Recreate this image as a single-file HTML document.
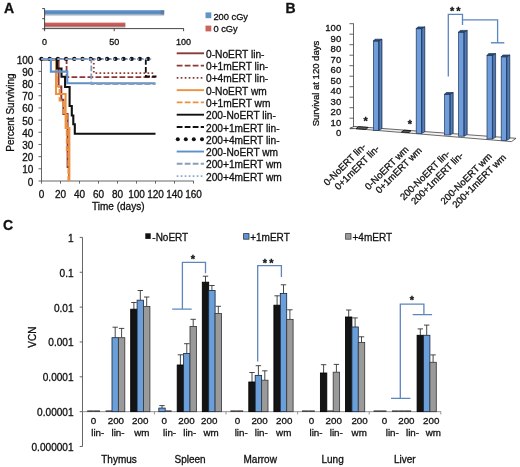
<!DOCTYPE html>
<html><head><meta charset="utf-8"><title>Figure</title>
<style>
html,body{margin:0;padding:0;background:#fff;overflow:hidden;}
svg{display:block;font-family:"Liberation Sans", sans-serif;will-change:transform;}
text{stroke:#111;stroke-width:0.3px;}
</style></head>
<body>
<svg width="520" height="467" viewBox="0 0 520 467">
<rect width="520" height="467" fill="#fff"/>
<text x="3.9" y="12.9" font-size="14" text-anchor="start" font-weight="bold" fill="#111" >A</text>
<text x="285.6" y="12.9" font-size="14" text-anchor="start" font-weight="bold" fill="#111" >B</text>
<text x="3" y="229.9" font-size="14" text-anchor="start" font-weight="bold" fill="#111" >C</text>
<defs><linearGradient id="gb" x1="0" y1="0" x2="0" y2="1"><stop offset="0" stop-color="#5f93cc"/><stop offset="0.5" stop-color="#5287c2"/><stop offset="0.75" stop-color="#a9b6c4"/><stop offset="1" stop-color="#f2eee9"/></linearGradient><linearGradient id="gr" x1="0" y1="0" x2="0" y2="1"><stop offset="0" stop-color="#cc6763"/><stop offset="0.55" stop-color="#bd5551"/><stop offset="0.8" stop-color="#b09593"/><stop offset="1" stop-color="#ebe3e1"/></linearGradient><linearGradient id="gbf" x1="0" y1="0" x2="1" y2="0"><stop offset="0" stop-color="#5f8fd0"/><stop offset="1" stop-color="#7fa8e0"/></linearGradient><linearGradient id="gbs" x1="0" y1="0" x2="1" y2="0"><stop offset="0" stop-color="#2f5791"/><stop offset="0.55" stop-color="#5b83bd"/><stop offset="1" stop-color="#34598f"/></linearGradient><linearGradient id="gfl" x1="0" y1="0" x2="0" y2="1"><stop offset="0" stop-color="#e8e8e8"/><stop offset="1" stop-color="#ffffff"/></linearGradient></defs>
<rect x="44.6" y="10.2" width="119.6" height="6" fill="url(#gb)" stroke="none" stroke-width="0" />
<rect x="44.6" y="22.6" width="80.8" height="5.3" fill="url(#gr)" stroke="none" stroke-width="0" />
<rect x="160.6" y="10.2" width="3.6" height="4.4" fill="#5d7190" stroke="none" stroke-width="0" opacity="0.55"/>
<line x1="44.6" y1="8.4" x2="44.6" y2="29.3" stroke="#333" stroke-width="0.9" />
<line x1="42.2" y1="8.6" x2="44.6" y2="8.6" stroke="#333" stroke-width="0.9" />
<line x1="42.2" y1="18.7" x2="44.6" y2="18.7" stroke="#333" stroke-width="0.9" />
<line x1="42.2" y1="28.8" x2="44.6" y2="28.8" stroke="#333" stroke-width="0.9" />
<line x1="44.6" y1="28.6" x2="183.8" y2="28.6" stroke="#333" stroke-width="0.9" />
<line x1="44.6" y1="28.6" x2="44.6" y2="31.2" stroke="#333" stroke-width="0.9" />
<line x1="114.2" y1="28.6" x2="114.2" y2="31.2" stroke="#333" stroke-width="0.9" />
<line x1="183.6" y1="28.6" x2="183.6" y2="31.2" stroke="#333" stroke-width="0.9" />
<text x="44.6" y="45.2" font-size="9" text-anchor="middle" font-weight="normal" fill="#111" >0</text>
<text x="114.2" y="45.2" font-size="9" text-anchor="middle" font-weight="normal" fill="#111" >50</text>
<text x="183.6" y="45.2" font-size="9" text-anchor="middle" font-weight="normal" fill="#111" >100</text>
<rect x="205.5" y="12.4" width="5.8" height="5.8" fill="#6493c8" stroke="none" stroke-width="0" />
<text x="213.4" y="19.9" font-size="9.3" text-anchor="start" font-weight="normal" fill="#111" >200 cGy</text>
<rect x="205.5" y="25.6" width="5.8" height="5.8" fill="#c96461" stroke="none" stroke-width="0" />
<text x="213.4" y="32.3" font-size="9.3" text-anchor="start" font-weight="normal" fill="#111" >0 cGy</text>
<line x1="41.5" y1="58.8" x2="41.5" y2="181" stroke="#555" stroke-width="0.9" />
<line x1="38.5" y1="181" x2="41.5" y2="181" stroke="#555" stroke-width="0.9" />
<text x="33.4" y="185.5" font-size="10" text-anchor="end" font-weight="normal" fill="#111" >0</text>
<line x1="38.5" y1="168.82" x2="41.5" y2="168.82" stroke="#555" stroke-width="0.9" />
<text x="33.4" y="173.32" font-size="10" text-anchor="end" font-weight="normal" fill="#111" >10</text>
<line x1="38.5" y1="156.64" x2="41.5" y2="156.64" stroke="#555" stroke-width="0.9" />
<text x="33.4" y="161.14" font-size="10" text-anchor="end" font-weight="normal" fill="#111" >20</text>
<line x1="38.5" y1="144.46" x2="41.5" y2="144.46" stroke="#555" stroke-width="0.9" />
<text x="33.4" y="148.96" font-size="10" text-anchor="end" font-weight="normal" fill="#111" >30</text>
<line x1="38.5" y1="132.28" x2="41.5" y2="132.28" stroke="#555" stroke-width="0.9" />
<text x="33.4" y="136.78" font-size="10" text-anchor="end" font-weight="normal" fill="#111" >40</text>
<line x1="38.5" y1="120.1" x2="41.5" y2="120.1" stroke="#555" stroke-width="0.9" />
<text x="33.4" y="124.6" font-size="10" text-anchor="end" font-weight="normal" fill="#111" >50</text>
<line x1="38.5" y1="107.92" x2="41.5" y2="107.92" stroke="#555" stroke-width="0.9" />
<text x="33.4" y="112.42" font-size="10" text-anchor="end" font-weight="normal" fill="#111" >60</text>
<line x1="38.5" y1="95.74" x2="41.5" y2="95.74" stroke="#555" stroke-width="0.9" />
<text x="33.4" y="100.24" font-size="10" text-anchor="end" font-weight="normal" fill="#111" >70</text>
<line x1="38.5" y1="83.56" x2="41.5" y2="83.56" stroke="#555" stroke-width="0.9" />
<text x="33.4" y="88.06" font-size="10" text-anchor="end" font-weight="normal" fill="#111" >80</text>
<line x1="38.5" y1="71.38" x2="41.5" y2="71.38" stroke="#555" stroke-width="0.9" />
<text x="33.4" y="75.88" font-size="10" text-anchor="end" font-weight="normal" fill="#111" >90</text>
<line x1="38.5" y1="59.2" x2="41.5" y2="59.2" stroke="#555" stroke-width="0.9" />
<text x="33.4" y="63.7" font-size="10" text-anchor="end" font-weight="normal" fill="#111" >100</text>
<line x1="41.5" y1="181" x2="193.8" y2="181" stroke="#555" stroke-width="0.9" />
<line x1="41.5" y1="181" x2="41.5" y2="183.6" stroke="#555" stroke-width="0.9" />
<text x="41.5" y="197.6" font-size="10" text-anchor="middle" font-weight="normal" fill="#111" >0</text>
<line x1="60.5" y1="181" x2="60.5" y2="183.6" stroke="#555" stroke-width="0.9" />
<text x="60.5" y="197.6" font-size="10" text-anchor="middle" font-weight="normal" fill="#111" >20</text>
<line x1="79.5" y1="181" x2="79.5" y2="183.6" stroke="#555" stroke-width="0.9" />
<text x="79.5" y="197.6" font-size="10" text-anchor="middle" font-weight="normal" fill="#111" >40</text>
<line x1="98.5" y1="181" x2="98.5" y2="183.6" stroke="#555" stroke-width="0.9" />
<text x="98.5" y="197.6" font-size="10" text-anchor="middle" font-weight="normal" fill="#111" >60</text>
<line x1="117.5" y1="181" x2="117.5" y2="183.6" stroke="#555" stroke-width="0.9" />
<text x="117.5" y="197.6" font-size="10" text-anchor="middle" font-weight="normal" fill="#111" >80</text>
<line x1="136.5" y1="181" x2="136.5" y2="183.6" stroke="#555" stroke-width="0.9" />
<text x="136.5" y="197.6" font-size="10" text-anchor="middle" font-weight="normal" fill="#111" >100</text>
<line x1="155.5" y1="181" x2="155.5" y2="183.6" stroke="#555" stroke-width="0.9" />
<text x="155.5" y="197.6" font-size="10" text-anchor="middle" font-weight="normal" fill="#111" >120</text>
<line x1="174.5" y1="181" x2="174.5" y2="183.6" stroke="#555" stroke-width="0.9" />
<text x="174.5" y="197.6" font-size="10" text-anchor="middle" font-weight="normal" fill="#111" >140</text>
<line x1="193.5" y1="181" x2="193.5" y2="183.6" stroke="#555" stroke-width="0.9" />
<text x="193.5" y="197.6" font-size="10" text-anchor="middle" font-weight="normal" fill="#111" >160</text>
<text x="118.3" y="210.3" font-size="10" text-anchor="middle" font-weight="normal" fill="#111" >Time (days)</text>
<text transform="translate(13.6 112.6) rotate(-90)" font-size="10" text-anchor="middle" fill="#111">Percent Surviving</text>
<path d="M41.5 59.2 H58.6 V86.4 H61.3 V99.8 H63.4 V114 H67.6 V167 H69.0 V181.0" fill="none" stroke="#8a3a37" stroke-width="2.0" stroke-linejoin="miter" />
<path d="M41.5 59.2 H66.6 V77.2 H155.5" fill="none" stroke="#8a3a37" stroke-width="1.8" stroke-linejoin="miter" stroke-dasharray="5.8 2.2"/>
<path d="M41.5 59.2 H93.8 V73.2 H155.5" fill="none" stroke="#8a3a37" stroke-width="1.8" stroke-linejoin="miter" stroke-dasharray="1.7 2.3"/>
<path d="M41.5 59.2 H56.0 V94 H65.6 V128 H69.4 V181.0" fill="none" stroke="#ef9240" stroke-width="2.0" stroke-linejoin="miter" />
<path d="M41.5 59.2 H56.8 V86 H59.6 V100.5 H63.6 V113 H66.8 V150 H68.4 V181.0" fill="none" stroke="#ef9240" stroke-width="2.0" stroke-linejoin="miter" stroke-dasharray="5.8 2.2"/>
<path d="M41.5 59.2 H57 V68.5 H61.5 V76.8 H65.1 V87 H69.6 V106 H71.8 V115.5 H73.3 V124.3 H74.8 V133.8 H155.5" fill="none" stroke="#111" stroke-width="2.1" stroke-linejoin="miter" />
<path d="M41.5 59.2 H145.8 V76.5 H156.5" fill="none" stroke="#111" stroke-width="1.8" stroke-linejoin="miter" stroke-dasharray="5.8 2.2"/>
<circle cx="41.5" cy="58.9" r="2.15" fill="#111"/>
<circle cx="49.7" cy="58.9" r="2.15" fill="#111"/>
<circle cx="57.9" cy="58.9" r="2.15" fill="#111"/>
<circle cx="66.1" cy="58.9" r="2.15" fill="#111"/>
<circle cx="74.3" cy="58.9" r="2.15" fill="#111"/>
<circle cx="82.5" cy="58.9" r="2.15" fill="#111"/>
<circle cx="90.7" cy="58.9" r="2.15" fill="#111"/>
<circle cx="98.9" cy="58.9" r="2.15" fill="#111"/>
<circle cx="107.1" cy="58.9" r="2.15" fill="#111"/>
<circle cx="115.3" cy="58.9" r="2.15" fill="#111"/>
<circle cx="123.5" cy="58.9" r="2.15" fill="#111"/>
<circle cx="131.7" cy="58.9" r="2.15" fill="#111"/>
<circle cx="139.9" cy="58.9" r="2.15" fill="#111"/>
<circle cx="148.1" cy="58.9" r="2.15" fill="#111"/>
<path d="M41.5 59.2 H50.9 V71.6 H67.3 V83.3 H155.5" fill="none" stroke="#5f90ca" stroke-width="2.1" stroke-linejoin="miter" />
<path d="M41.5 59.2 H91.3 V84.2 H155.5" fill="none" stroke="#8a9fbd" stroke-width="1.8" stroke-linejoin="miter" stroke-dasharray="5.8 2.2"/>
<path d="M41.5 59.2 H152" fill="none" stroke="#84a9d6" stroke-width="1.8" stroke-linejoin="miter" stroke-dasharray="1.7 2.3"/>
<line x1="176.7" y1="53.3" x2="204" y2="53.3" stroke="#8a3a37" stroke-width="1.9" />
<text x="206" y="57.9" font-size="10.2" text-anchor="start" font-weight="normal" fill="#111" >0-NoERT lin-</text>
<line x1="176.7" y1="65.58" x2="204" y2="65.58" stroke="#8a3a37" stroke-width="1.9" stroke-dasharray="5.8 2.2"/>
<text x="206" y="70.18" font-size="10.2" text-anchor="start" font-weight="normal" fill="#111" >0+1mERT lin-</text>
<line x1="176.7" y1="77.86" x2="204" y2="77.86" stroke="#8a3a37" stroke-width="1.9" stroke-dasharray="1.7 2.3"/>
<text x="206" y="82.46" font-size="10.2" text-anchor="start" font-weight="normal" fill="#111" >0+4mERT lin-</text>
<line x1="176.7" y1="90.14" x2="204" y2="90.14" stroke="#ef9240" stroke-width="1.9" />
<text x="206" y="94.74" font-size="10.2" text-anchor="start" font-weight="normal" fill="#111" >0-NoERT wm</text>
<line x1="176.7" y1="102.42" x2="204" y2="102.42" stroke="#ef9240" stroke-width="1.9" stroke-dasharray="5.8 2.2"/>
<text x="206" y="107.02" font-size="10.2" text-anchor="start" font-weight="normal" fill="#111" >0+1mERT wm</text>
<line x1="176.7" y1="114.7" x2="204" y2="114.7" stroke="#111" stroke-width="1.9" />
<text x="206" y="119.3" font-size="10.2" text-anchor="start" font-weight="normal" fill="#111" >200-NoERT lin-</text>
<line x1="176.7" y1="126.98" x2="204" y2="126.98" stroke="#111" stroke-width="1.9" stroke-dasharray="5.8 2.2"/>
<text x="206" y="131.58" font-size="10.2" text-anchor="start" font-weight="normal" fill="#111" >200+1mERT lin-</text>
<circle cx="177.8" cy="139.26" r="2.0" fill="#111"/>
<circle cx="185.8" cy="139.26" r="2.0" fill="#111"/>
<circle cx="193.8" cy="139.26" r="2.0" fill="#111"/>
<circle cx="202.0" cy="139.26" r="2.0" fill="#111"/>
<text x="206" y="143.86" font-size="10.2" text-anchor="start" font-weight="normal" fill="#111" >200+4mERT lin-</text>
<line x1="176.7" y1="151.54" x2="204" y2="151.54" stroke="#5f90ca" stroke-width="1.9" />
<text x="206" y="156.14" font-size="10.2" text-anchor="start" font-weight="normal" fill="#111" >200-NoERT wm</text>
<line x1="176.7" y1="163.82" x2="204" y2="163.82" stroke="#8a9fbd" stroke-width="1.9" stroke-dasharray="5.8 2.2"/>
<text x="206" y="168.42" font-size="10.2" text-anchor="start" font-weight="normal" fill="#111" >200+1mERT wm</text>
<line x1="176.7" y1="176.1" x2="204" y2="176.1" stroke="#84a9d6" stroke-width="1.9" stroke-dasharray="1.7 2.3"/>
<text x="206" y="180.7" font-size="10.2" text-anchor="start" font-weight="normal" fill="#111" >200+4mERT wm</text>
<line x1="353.5" y1="23.4" x2="353.5" y2="128.7" stroke="#555" stroke-width="0.9" />
<line x1="349.5" y1="128.7" x2="353.5" y2="128.7" stroke="#555" stroke-width="0.9" />
<text x="341.2" y="136.1" font-size="9.5" text-anchor="end" font-weight="normal" fill="#111" >0</text>
<line x1="349.5" y1="118.2" x2="353.5" y2="118.2" stroke="#555" stroke-width="0.9" />
<text x="341.2" y="125.6" font-size="9.5" text-anchor="end" font-weight="normal" fill="#111" >10</text>
<line x1="349.5" y1="107.7" x2="353.5" y2="107.7" stroke="#555" stroke-width="0.9" />
<text x="341.2" y="115.1" font-size="9.5" text-anchor="end" font-weight="normal" fill="#111" >20</text>
<line x1="349.5" y1="97.2" x2="353.5" y2="97.2" stroke="#555" stroke-width="0.9" />
<text x="341.2" y="104.6" font-size="9.5" text-anchor="end" font-weight="normal" fill="#111" >30</text>
<line x1="349.5" y1="86.7" x2="353.5" y2="86.7" stroke="#555" stroke-width="0.9" />
<text x="341.2" y="94.1" font-size="9.5" text-anchor="end" font-weight="normal" fill="#111" >40</text>
<line x1="349.5" y1="76.2" x2="353.5" y2="76.2" stroke="#555" stroke-width="0.9" />
<text x="341.2" y="83.6" font-size="9.5" text-anchor="end" font-weight="normal" fill="#111" >50</text>
<line x1="349.5" y1="65.7" x2="353.5" y2="65.7" stroke="#555" stroke-width="0.9" />
<text x="341.2" y="73.1" font-size="9.5" text-anchor="end" font-weight="normal" fill="#111" >60</text>
<line x1="349.5" y1="55.2" x2="353.5" y2="55.2" stroke="#555" stroke-width="0.9" />
<text x="341.2" y="62.6" font-size="9.5" text-anchor="end" font-weight="normal" fill="#111" >70</text>
<line x1="349.5" y1="44.7" x2="353.5" y2="44.7" stroke="#555" stroke-width="0.9" />
<text x="341.2" y="52.1" font-size="9.5" text-anchor="end" font-weight="normal" fill="#111" >80</text>
<line x1="349.5" y1="34.2" x2="353.5" y2="34.2" stroke="#555" stroke-width="0.9" />
<text x="341.2" y="41.6" font-size="9.5" text-anchor="end" font-weight="normal" fill="#111" >90</text>
<line x1="349.5" y1="23.7" x2="353.5" y2="23.7" stroke="#555" stroke-width="0.9" />
<text x="341.2" y="31.1" font-size="9.5" text-anchor="end" font-weight="normal" fill="#111" >100</text>
<text transform="translate(318.6 83.6) rotate(-90)" font-size="9.5" text-anchor="middle" fill="#111">Survival at 120 days</text>
<polygon points="354,126.4 516,138.3 511.5,141.6 350,128.2" fill="url(#gfl)" stroke="#2a2a2a" stroke-width="0.7"/>
<rect x="373.4" y="41" width="5.4" height="89.3" fill="#6f9ddb" stroke="#1f3658" stroke-width="0.7"/>
<polygon points="378.8,41 382,39.2 382,128.5 378.8,130.3" fill="url(#gbs)" stroke="#1f3658" stroke-width="0.7"/>
<polygon points="373.4,41 375,39.2 382,39.2 378.8,41" fill="#2c4a78" stroke="#1f3658" stroke-width="0.7"/>
<rect x="416.2" y="28.7" width="5.4" height="104.9" fill="#6f9ddb" stroke="#1f3658" stroke-width="0.7"/>
<polygon points="421.6,28.7 424.8,26.9 424.8,131.8 421.6,133.6" fill="url(#gbs)" stroke="#1f3658" stroke-width="0.7"/>
<polygon points="416.2,28.7 417.8,26.9 424.8,26.9 421.6,28.7" fill="#2c4a78" stroke="#1f3658" stroke-width="0.7"/>
<rect x="444.6" y="94.3" width="5.4" height="40.7" fill="#6f9ddb" stroke="#1f3658" stroke-width="0.7"/>
<polygon points="450,94.3 453.2,92.5 453.2,133.2 450,135" fill="url(#gbs)" stroke="#1f3658" stroke-width="0.7"/>
<polygon points="444.6,94.3 446.2,92.5 453.2,92.5 450,94.3" fill="#2c4a78" stroke="#1f3658" stroke-width="0.7"/>
<rect x="458.6" y="32.2" width="5.4" height="104" fill="#6f9ddb" stroke="#1f3658" stroke-width="0.7"/>
<polygon points="464,32.2 467.2,30.4 467.2,134.4 464,136.2" fill="url(#gbs)" stroke="#1f3658" stroke-width="0.7"/>
<polygon points="458.6,32.2 460.2,30.4 467.2,30.4 464,32.2" fill="#2c4a78" stroke="#1f3658" stroke-width="0.7"/>
<rect x="487" y="55.4" width="5.4" height="83.6" fill="#6f9ddb" stroke="#1f3658" stroke-width="0.7"/>
<polygon points="492.4,55.4 495.6,53.6 495.6,137.2 492.4,139" fill="url(#gbs)" stroke="#1f3658" stroke-width="0.7"/>
<polygon points="487,55.4 488.6,53.6 495.6,53.6 492.4,55.4" fill="#2c4a78" stroke="#1f3658" stroke-width="0.7"/>
<rect x="501.2" y="56.8" width="5.4" height="83.6" fill="#6f9ddb" stroke="#1f3658" stroke-width="0.7"/>
<polygon points="506.6,56.8 509.8,55 509.8,138.6 506.6,140.4" fill="url(#gbs)" stroke="#1f3658" stroke-width="0.7"/>
<polygon points="501.2,56.8 502.8,55 509.8,55 506.6,56.8" fill="#2c4a78" stroke="#1f3658" stroke-width="0.7"/>
<polygon points="356,128.7 358.5,126.7 368,127.4 366,129.4" fill="#666" stroke="#111" stroke-width="0.9"/>
<polygon points="401.5,132 404,130.2 411,130.7 409,132.5" fill="#666" stroke="#111" stroke-width="0.9"/>
<text x="365.6" y="124.6" font-size="11" text-anchor="middle" font-weight="bold" fill="#111" >*</text>
<text x="410" y="128.1" font-size="11" text-anchor="middle" font-weight="bold" fill="#111" >*</text>
<text x="452.1" y="14.8" font-size="11" text-anchor="middle" font-weight="bold" fill="#111" >*</text>
<text x="458.5" y="14.8" font-size="11" text-anchor="middle" font-weight="bold" fill="#111" >*</text>
<path d="M448.3 76.5 V14.3 H462.5 V24.9" fill="none" stroke="#5c86be" stroke-width="1.3" stroke-linejoin="miter" />
<path d="M462.5 19.9 H497.6 V42.8" fill="none" stroke="#5c86be" stroke-width="1.3" stroke-linejoin="miter" />
<line x1="490.9" y1="42.8" x2="504.3" y2="42.8" stroke="#5c86be" stroke-width="1.4" />
<text transform="translate(366.5 147.2) rotate(-45)" font-size="9.6" text-anchor="end" fill="#111">0-NoERT lin-</text>
<text transform="translate(380 149.2) rotate(-45)" font-size="9.6" text-anchor="end" fill="#111">0+1mERT lin-</text>
<text transform="translate(409.2 150) rotate(-45)" font-size="9.6" text-anchor="end" fill="#111">0-NoERT wm</text>
<text transform="translate(422.5 151) rotate(-45)" font-size="9.6" text-anchor="end" fill="#111">0+1mERT wm</text>
<text transform="translate(450.5 154.2) rotate(-45)" font-size="9.6" text-anchor="end" fill="#111">200-NoERT lin-</text>
<text transform="translate(464 156) rotate(-45)" font-size="9.6" text-anchor="end" fill="#111">200+1mERT lin-</text>
<text transform="translate(492.5 156.9) rotate(-45)" font-size="9.6" text-anchor="end" fill="#111">200-NoERT wm</text>
<text transform="translate(506.6 158) rotate(-45)" font-size="9.6" text-anchor="end" fill="#111">200+1mERT wm</text>
<line x1="82.5" y1="237.4" x2="82.5" y2="446.5" stroke="#555" stroke-width="0.9" />
<line x1="79.7" y1="237.4" x2="82.5" y2="237.4" stroke="#555" stroke-width="0.9" />
<text x="73.6" y="241.8" font-size="10.1" text-anchor="end" font-weight="normal" fill="#111" >1</text>
<line x1="79.7" y1="272.25" x2="82.5" y2="272.25" stroke="#555" stroke-width="0.9" />
<text x="73.6" y="276.65" font-size="10.1" text-anchor="end" font-weight="normal" fill="#111" >0.1</text>
<line x1="79.7" y1="307.1" x2="82.5" y2="307.1" stroke="#555" stroke-width="0.9" />
<text x="73.6" y="311.5" font-size="10.1" text-anchor="end" font-weight="normal" fill="#111" >0.01</text>
<line x1="79.7" y1="341.95" x2="82.5" y2="341.95" stroke="#555" stroke-width="0.9" />
<text x="73.6" y="346.35" font-size="10.1" text-anchor="end" font-weight="normal" fill="#111" >0.001</text>
<line x1="79.7" y1="376.8" x2="82.5" y2="376.8" stroke="#555" stroke-width="0.9" />
<text x="73.6" y="381.2" font-size="10.1" text-anchor="end" font-weight="normal" fill="#111" >0.0001</text>
<line x1="79.7" y1="411.65" x2="82.5" y2="411.65" stroke="#555" stroke-width="0.9" />
<text x="73.6" y="416.05" font-size="10.1" text-anchor="end" font-weight="normal" fill="#111" >0.00001</text>
<line x1="79.7" y1="446.5" x2="82.5" y2="446.5" stroke="#555" stroke-width="0.9" />
<text x="73.6" y="450.9" font-size="10.1" text-anchor="end" font-weight="normal" fill="#111" >0.000001</text>
<text transform="translate(35.6 337.2) rotate(-90)" font-size="10" text-anchor="middle" fill="#111">VCN</text>
<line x1="82.5" y1="411.65" x2="441" y2="411.65" stroke="#888" stroke-width="0.9" />
<line x1="154.4" y1="411.65" x2="154.4" y2="414.45" stroke="#888" stroke-width="0.9" />
<line x1="226" y1="411.65" x2="226" y2="414.45" stroke="#888" stroke-width="0.9" />
<line x1="297.6" y1="411.65" x2="297.6" y2="414.45" stroke="#888" stroke-width="0.9" />
<line x1="369.2" y1="411.65" x2="369.2" y2="414.45" stroke="#888" stroke-width="0.9" />
<line x1="440.8" y1="411.65" x2="440.8" y2="414.45" stroke="#888" stroke-width="0.9" />
<rect x="145.3" y="233.3" width="5.4" height="5.6" fill="#111" stroke="none" stroke-width="0" />
<text x="152.3" y="240.8" font-size="10.0" text-anchor="start" font-weight="normal" fill="#111" >-NoERT</text>
<rect x="243.6" y="233.6" width="5.4" height="5.6" fill="#5b95d6" stroke="#333" stroke-width="0.8" />
<text x="250.2" y="240.8" font-size="10.0" text-anchor="start" font-weight="normal" fill="#111" >+1mERT</text>
<rect x="345.6" y="233.6" width="5.4" height="5.6" fill="#9a9a9a" stroke="#444" stroke-width="0.8" />
<text x="352.5" y="240.8" font-size="10.0" text-anchor="start" font-weight="normal" fill="#111" >+4mERT</text>
<line x1="87.2" y1="411.15" x2="93.6" y2="411.15" stroke="#3c3c3c" stroke-width="1.5" />
<line x1="93.6" y1="411.15" x2="100" y2="411.15" stroke="#3c3c3c" stroke-width="1.5" />
<line x1="105.6" y1="411.15" x2="112" y2="411.15" stroke="#3c3c3c" stroke-width="1.5" />
<line x1="115.2" y1="337.7" x2="115.2" y2="327.2" stroke="#333" stroke-width="0.9"/>
<line x1="112.5" y1="327.2" x2="117.9" y2="327.2" stroke="#333" stroke-width="0.9" />
<rect x="112" y="337.7" width="6.4" height="73.95" fill="#6a9fda" stroke="#1c2c44" stroke-width="0.85"/>
<line x1="121.6" y1="337.7" x2="121.6" y2="328.4" stroke="#333" stroke-width="0.9"/>
<line x1="118.9" y1="328.4" x2="124.3" y2="328.4" stroke="#333" stroke-width="0.9" />
<rect x="118.4" y="337.7" width="6.4" height="73.95" fill="#9a9a9a" stroke="#3a3a3a" stroke-width="0.85"/>
<line x1="133.9" y1="309.2" x2="133.9" y2="302.5" stroke="#333" stroke-width="0.9"/>
<line x1="131.2" y1="302.5" x2="136.6" y2="302.5" stroke="#333" stroke-width="0.9" />
<rect x="130.7" y="309.2" width="6.4" height="102.45" fill="#141414" stroke="#000" stroke-width="0.85"/>
<line x1="140.3" y1="300.2" x2="140.3" y2="290.5" stroke="#333" stroke-width="0.9"/>
<line x1="137.6" y1="290.5" x2="143" y2="290.5" stroke="#333" stroke-width="0.9" />
<rect x="137.1" y="300.2" width="6.4" height="111.45" fill="#6a9fda" stroke="#1c2c44" stroke-width="0.85"/>
<line x1="146.7" y1="306.5" x2="146.7" y2="297" stroke="#333" stroke-width="0.9"/>
<line x1="144" y1="297" x2="149.4" y2="297" stroke="#333" stroke-width="0.9" />
<rect x="143.5" y="306.5" width="6.4" height="105.15" fill="#9a9a9a" stroke="#3a3a3a" stroke-width="0.85"/>
<text x="93.5" y="424" font-size="9.8" text-anchor="middle" font-weight="normal" fill="#111" >0</text>
<text x="97.8" y="436" font-size="9.8" text-anchor="middle" font-weight="normal" fill="#111" >lin-</text>
<text x="115.9" y="424" font-size="9.8" text-anchor="middle" font-weight="normal" fill="#111" >200</text>
<text x="118" y="436" font-size="9.8" text-anchor="middle" font-weight="normal" fill="#111" >lin-</text>
<text x="140.2" y="424" font-size="9.8" text-anchor="middle" font-weight="normal" fill="#111" >200</text>
<text x="141.9" y="436" font-size="9.8" text-anchor="middle" font-weight="normal" fill="#111" >wm</text>
<text x="119" y="462.9" font-size="10" text-anchor="middle" font-weight="normal" fill="#111" >Thymus</text>
<line x1="162" y1="408.1" x2="162" y2="405.6" stroke="#333" stroke-width="0.9"/>
<line x1="159.3" y1="405.6" x2="164.7" y2="405.6" stroke="#333" stroke-width="0.9" />
<rect x="158.8" y="408.1" width="6.4" height="3.55" fill="#6a9fda" stroke="#1c2c44" stroke-width="0.85"/>
<line x1="165.2" y1="411.15" x2="171.6" y2="411.15" stroke="#3c3c3c" stroke-width="1.5" />
<line x1="180.4" y1="365" x2="180.4" y2="354.8" stroke="#333" stroke-width="0.9"/>
<line x1="177.7" y1="354.8" x2="183.1" y2="354.8" stroke="#333" stroke-width="0.9" />
<rect x="177.2" y="365" width="6.4" height="46.65" fill="#141414" stroke="#000" stroke-width="0.85"/>
<line x1="186.8" y1="353.5" x2="186.8" y2="343.7" stroke="#333" stroke-width="0.9"/>
<line x1="184.1" y1="343.7" x2="189.5" y2="343.7" stroke="#333" stroke-width="0.9" />
<rect x="183.6" y="353.5" width="6.4" height="58.15" fill="#6a9fda" stroke="#1c2c44" stroke-width="0.85"/>
<line x1="193.2" y1="326.5" x2="193.2" y2="319.3" stroke="#333" stroke-width="0.9"/>
<line x1="190.5" y1="319.3" x2="195.9" y2="319.3" stroke="#333" stroke-width="0.9" />
<rect x="190" y="326.5" width="6.4" height="85.15" fill="#9a9a9a" stroke="#3a3a3a" stroke-width="0.85"/>
<line x1="205.5" y1="282.2" x2="205.5" y2="276.2" stroke="#333" stroke-width="0.9"/>
<line x1="202.8" y1="276.2" x2="208.2" y2="276.2" stroke="#333" stroke-width="0.9" />
<rect x="202.3" y="282.2" width="6.4" height="129.45" fill="#141414" stroke="#000" stroke-width="0.85"/>
<line x1="211.9" y1="290.5" x2="211.9" y2="285.5" stroke="#333" stroke-width="0.9"/>
<line x1="209.2" y1="285.5" x2="214.6" y2="285.5" stroke="#333" stroke-width="0.9" />
<rect x="208.7" y="290.5" width="6.4" height="121.15" fill="#6a9fda" stroke="#1c2c44" stroke-width="0.85"/>
<line x1="218.3" y1="313.5" x2="218.3" y2="306.3" stroke="#333" stroke-width="0.9"/>
<line x1="215.6" y1="306.3" x2="221" y2="306.3" stroke="#333" stroke-width="0.9" />
<rect x="215.1" y="313.5" width="6.4" height="98.15" fill="#9a9a9a" stroke="#3a3a3a" stroke-width="0.85"/>
<text x="164.3" y="424" font-size="9.8" text-anchor="middle" font-weight="normal" fill="#111" >0</text>
<text x="169.6" y="436" font-size="9.8" text-anchor="middle" font-weight="normal" fill="#111" >lin-</text>
<text x="186.5" y="424" font-size="9.8" text-anchor="middle" font-weight="normal" fill="#111" >200</text>
<text x="189.8" y="436" font-size="9.8" text-anchor="middle" font-weight="normal" fill="#111" >lin-</text>
<text x="209.2" y="424" font-size="9.8" text-anchor="middle" font-weight="normal" fill="#111" >200</text>
<text x="211" y="436" font-size="9.8" text-anchor="middle" font-weight="normal" fill="#111" >wm</text>
<text x="190.1" y="462.9" font-size="10" text-anchor="middle" font-weight="normal" fill="#111" >Spleen</text>
<line x1="230.4" y1="411.15" x2="236.8" y2="411.15" stroke="#3c3c3c" stroke-width="1.5" />
<line x1="236.8" y1="411.15" x2="243.2" y2="411.15" stroke="#3c3c3c" stroke-width="1.5" />
<line x1="252" y1="382" x2="252" y2="372.5" stroke="#333" stroke-width="0.9"/>
<line x1="249.3" y1="372.5" x2="254.7" y2="372.5" stroke="#333" stroke-width="0.9" />
<rect x="248.8" y="382" width="6.4" height="29.65" fill="#141414" stroke="#000" stroke-width="0.85"/>
<line x1="258.4" y1="375.4" x2="258.4" y2="365.7" stroke="#333" stroke-width="0.9"/>
<line x1="255.7" y1="365.7" x2="261.1" y2="365.7" stroke="#333" stroke-width="0.9" />
<rect x="255.2" y="375.4" width="6.4" height="36.25" fill="#6a9fda" stroke="#1c2c44" stroke-width="0.85"/>
<line x1="264.8" y1="380.2" x2="264.8" y2="370.8" stroke="#333" stroke-width="0.9"/>
<line x1="262.1" y1="370.8" x2="267.5" y2="370.8" stroke="#333" stroke-width="0.9" />
<rect x="261.6" y="380.2" width="6.4" height="31.45" fill="#9a9a9a" stroke="#3a3a3a" stroke-width="0.85"/>
<line x1="277.1" y1="305.2" x2="277.1" y2="295.8" stroke="#333" stroke-width="0.9"/>
<line x1="274.4" y1="295.8" x2="279.8" y2="295.8" stroke="#333" stroke-width="0.9" />
<rect x="273.9" y="305.2" width="6.4" height="106.45" fill="#141414" stroke="#000" stroke-width="0.85"/>
<line x1="283.5" y1="293.4" x2="283.5" y2="284.8" stroke="#333" stroke-width="0.9"/>
<line x1="280.8" y1="284.8" x2="286.2" y2="284.8" stroke="#333" stroke-width="0.9" />
<rect x="280.3" y="293.4" width="6.4" height="118.25" fill="#6a9fda" stroke="#1c2c44" stroke-width="0.85"/>
<line x1="289.9" y1="319.4" x2="289.9" y2="309.8" stroke="#333" stroke-width="0.9"/>
<line x1="287.2" y1="309.8" x2="292.6" y2="309.8" stroke="#333" stroke-width="0.9" />
<rect x="286.7" y="319.4" width="6.4" height="92.25" fill="#9a9a9a" stroke="#3a3a3a" stroke-width="0.85"/>
<text x="237.5" y="424" font-size="9.8" text-anchor="middle" font-weight="normal" fill="#111" >0</text>
<text x="241.2" y="436" font-size="9.8" text-anchor="middle" font-weight="normal" fill="#111" >lin-</text>
<text x="259.6" y="424" font-size="9.8" text-anchor="middle" font-weight="normal" fill="#111" >200</text>
<text x="261.3" y="436" font-size="9.8" text-anchor="middle" font-weight="normal" fill="#111" >lin-</text>
<text x="284.2" y="424" font-size="9.8" text-anchor="middle" font-weight="normal" fill="#111" >200</text>
<text x="283.7" y="436" font-size="9.8" text-anchor="middle" font-weight="normal" fill="#111" >wm</text>
<text x="260.2" y="462.9" font-size="10" text-anchor="middle" font-weight="normal" fill="#111" >Marrow</text>
<line x1="302" y1="411.15" x2="308.4" y2="411.15" stroke="#3c3c3c" stroke-width="1.5" />
<line x1="308.4" y1="411.15" x2="314.8" y2="411.15" stroke="#3c3c3c" stroke-width="1.5" />
<line x1="323.6" y1="373" x2="323.6" y2="364.7" stroke="#333" stroke-width="0.9"/>
<line x1="320.9" y1="364.7" x2="326.3" y2="364.7" stroke="#333" stroke-width="0.9" />
<rect x="320.4" y="373" width="6.4" height="38.65" fill="#141414" stroke="#000" stroke-width="0.85"/>
<line x1="326.8" y1="411.15" x2="333.2" y2="411.15" stroke="#3c3c3c" stroke-width="1.5" />
<line x1="336.4" y1="372.2" x2="336.4" y2="364.4" stroke="#333" stroke-width="0.9"/>
<line x1="333.7" y1="364.4" x2="339.1" y2="364.4" stroke="#333" stroke-width="0.9" />
<rect x="333.2" y="372.2" width="6.4" height="39.45" fill="#9a9a9a" stroke="#3a3a3a" stroke-width="0.85"/>
<line x1="348.7" y1="317" x2="348.7" y2="310" stroke="#333" stroke-width="0.9"/>
<line x1="346" y1="310" x2="351.4" y2="310" stroke="#333" stroke-width="0.9" />
<rect x="345.5" y="317" width="6.4" height="94.65" fill="#141414" stroke="#000" stroke-width="0.85"/>
<line x1="355.1" y1="327" x2="355.1" y2="317.9" stroke="#333" stroke-width="0.9"/>
<line x1="352.4" y1="317.9" x2="357.8" y2="317.9" stroke="#333" stroke-width="0.9" />
<rect x="351.9" y="327" width="6.4" height="84.65" fill="#6a9fda" stroke="#1c2c44" stroke-width="0.85"/>
<line x1="361.5" y1="342.4" x2="361.5" y2="336.8" stroke="#333" stroke-width="0.9"/>
<line x1="358.8" y1="336.8" x2="364.2" y2="336.8" stroke="#333" stroke-width="0.9" />
<rect x="358.3" y="342.4" width="6.4" height="69.25" fill="#9a9a9a" stroke="#3a3a3a" stroke-width="0.85"/>
<text x="311.6" y="424" font-size="9.8" text-anchor="middle" font-weight="normal" fill="#111" >0</text>
<text x="316" y="436" font-size="9.8" text-anchor="middle" font-weight="normal" fill="#111" >lin-</text>
<text x="333.7" y="424" font-size="9.8" text-anchor="middle" font-weight="normal" fill="#111" >200</text>
<text x="336.3" y="436" font-size="9.8" text-anchor="middle" font-weight="normal" fill="#111" >lin-</text>
<text x="359.6" y="424" font-size="9.8" text-anchor="middle" font-weight="normal" fill="#111" >200</text>
<text x="359.2" y="436" font-size="9.8" text-anchor="middle" font-weight="normal" fill="#111" >wm</text>
<text x="332.6" y="462.9" font-size="10" text-anchor="middle" font-weight="normal" fill="#111" >Lung</text>
<line x1="373.6" y1="411.15" x2="380" y2="411.15" stroke="#3c3c3c" stroke-width="1.5" />
<line x1="380" y1="411.15" x2="386.4" y2="411.15" stroke="#3c3c3c" stroke-width="1.5" />
<line x1="392" y1="411.15" x2="398.4" y2="411.15" stroke="#3c3c3c" stroke-width="1.5" />
<line x1="398.4" y1="411.15" x2="404.8" y2="411.15" stroke="#3c3c3c" stroke-width="1.5" />
<line x1="404.8" y1="411.15" x2="411.2" y2="411.15" stroke="#3c3c3c" stroke-width="1.5" />
<line x1="420.3" y1="335.3" x2="420.3" y2="328.9" stroke="#333" stroke-width="0.9"/>
<line x1="417.6" y1="328.9" x2="423" y2="328.9" stroke="#333" stroke-width="0.9" />
<rect x="417.1" y="335.3" width="6.4" height="76.35" fill="#141414" stroke="#000" stroke-width="0.85"/>
<line x1="426.7" y1="335.3" x2="426.7" y2="325.1" stroke="#333" stroke-width="0.9"/>
<line x1="424" y1="325.1" x2="429.4" y2="325.1" stroke="#333" stroke-width="0.9" />
<rect x="423.5" y="335.3" width="6.4" height="76.35" fill="#6a9fda" stroke="#1c2c44" stroke-width="0.85"/>
<line x1="433.1" y1="362.3" x2="433.1" y2="354.9" stroke="#333" stroke-width="0.9"/>
<line x1="430.4" y1="354.9" x2="435.8" y2="354.9" stroke="#333" stroke-width="0.9" />
<rect x="429.9" y="362.3" width="6.4" height="49.35" fill="#9a9a9a" stroke="#3a3a3a" stroke-width="0.85"/>
<text x="384.4" y="424" font-size="9.8" text-anchor="middle" font-weight="normal" fill="#111" >0</text>
<text x="392.3" y="436" font-size="9.8" text-anchor="middle" font-weight="normal" fill="#111" >lin-</text>
<text x="406.4" y="424" font-size="9.8" text-anchor="middle" font-weight="normal" fill="#111" >200</text>
<text x="412.5" y="436" font-size="9.8" text-anchor="middle" font-weight="normal" fill="#111" >lin-</text>
<text x="431.2" y="424" font-size="9.8" text-anchor="middle" font-weight="normal" fill="#111" >200</text>
<text x="433.4" y="436" font-size="9.8" text-anchor="middle" font-weight="normal" fill="#111" >wm</text>
<text x="404.8" y="462.9" font-size="10" text-anchor="middle" font-weight="normal" fill="#111" >Liver</text>
<path d="M172.2 309.2 H191.7 M182.4 309.2 V262.3 H205.5 V273.2" fill="none" stroke="#5c86be" stroke-width="1.3" stroke-linejoin="miter" />
<path d="M257.7 361.4 V265.7 H281.4 V277" fill="none" stroke="#5c86be" stroke-width="1.3" stroke-linejoin="miter" />
<path d="M391 398.3 H410.4 M400.3 398.3 V304.1 H423.9 V314.7 M412.7 314.7 H432.1" fill="none" stroke="#5c86be" stroke-width="1.3" stroke-linejoin="miter" />
<text x="192.8" y="262.9" font-size="11" text-anchor="middle" font-weight="bold" fill="#111" >*</text>
<text x="265" y="266.9" font-size="11" text-anchor="middle" font-weight="bold" fill="#111" >*</text>
<text x="271.4" y="266.9" font-size="11" text-anchor="middle" font-weight="bold" fill="#111" >*</text>
<text x="411.9" y="304.2" font-size="11" text-anchor="middle" font-weight="bold" fill="#111" >*</text>
</svg>
</body></html>
